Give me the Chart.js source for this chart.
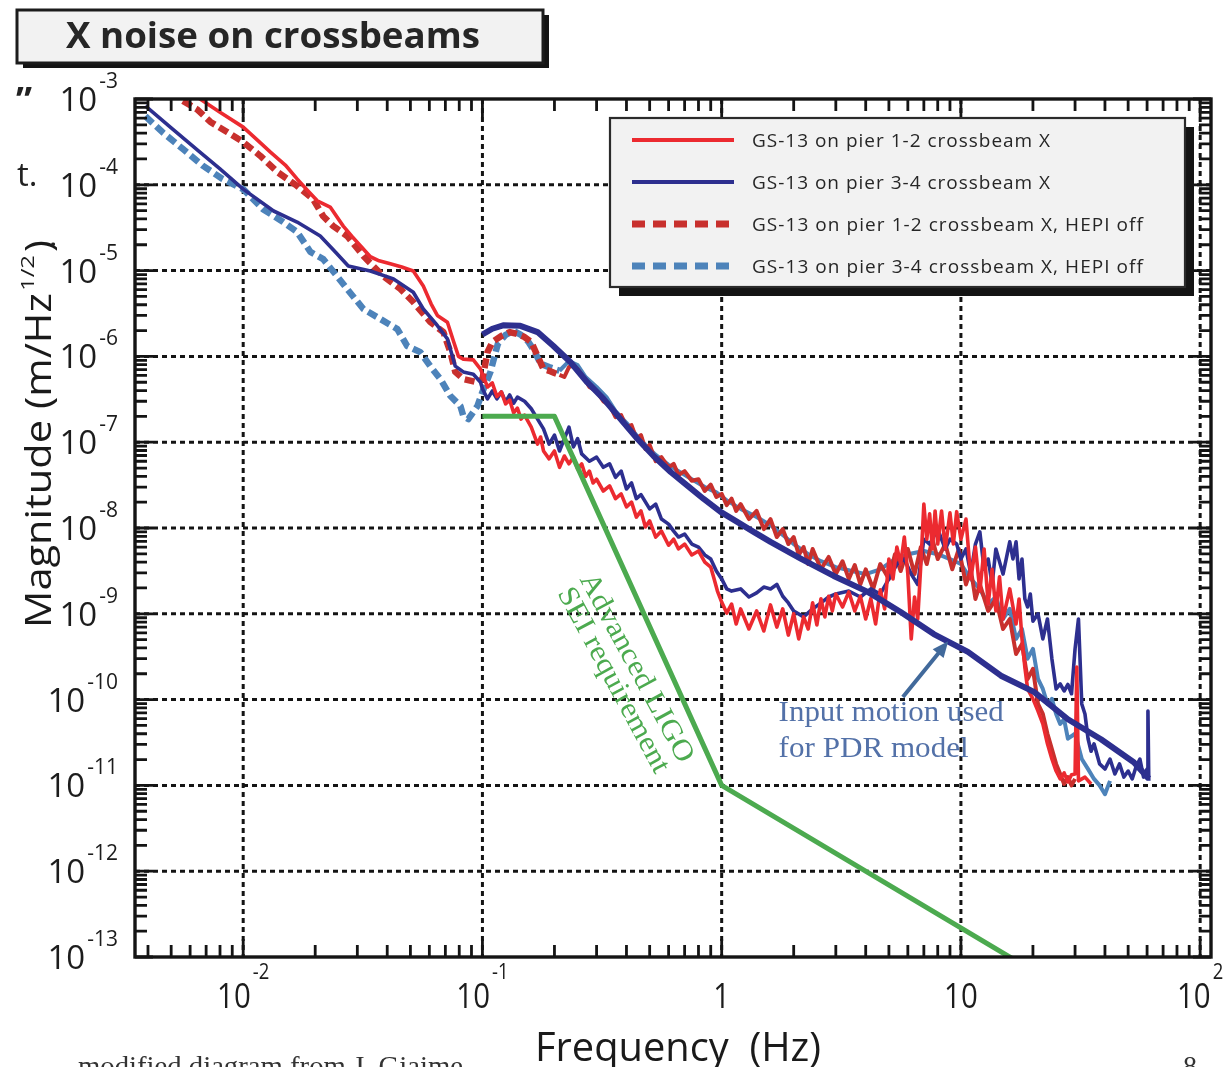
<!DOCTYPE html>
<html>
<head>
<meta charset="utf-8">
<title>X noise on crossbeams</title>
<script src="https://cdn.jsdelivr.net/npm/chart.js"></script>
<style>
  html, body { margin: 0; padding: 0; background: #ffffff; }
  canvas { display: block; }
</style>
</head>
<body>
<canvas id="chart" width="1227" height="1067"></canvas>
<script>
// ---------------- axis ranges and tick labels ----------------
const freqRange = [0.00353, 111];          // Hz
const magRange = [1e-13, 1e-3];            // m/Hz^1/2
const gridFreq = [0.01, 0.1, 1, 10, 100];
const gridMag = [1e-4, 1e-5, 1e-6, 1e-7, 1e-8, 1e-9, 1e-10, 1e-11, 1e-12];
const xTickValues = [0.01, 0.1, 1, 10, 100];
const xTickBase = ['10', '10', '1', '10', '10'];
const xTickExp = ['-2', '-1', '', '', '2'];
const yTickValues = [1e-3, 1e-4, 1e-5, 1e-6, 1e-7, 1e-8, 1e-9, 1e-10, 1e-11, 1e-12, 1e-13];
const yTickExp = ['-3', '-4', '-5', '-6', '-7', '-8', '-9', '-10', '-11', '-12', '-13'];

const seriesLabels = [
  'GS-13 on pier 1-2 crossbeam X',
  'GS-13 on pier 3-4 crossbeam X',
  'GS-13 on pier 1-2 crossbeam X, HEPI off',
  'GS-13 on pier 3-4 crossbeam X, HEPI off'
];

// ---------------- GS-13 on pier 1-2, HEPI on ----------------
const pier12Freq = [
  0.0062, 0.0066, 0.008, 0.010, 0.0115, 0.013, 0.015, 0.0168, 0.0185, 0.0204,
  0.0231, 0.0262, 0.0285, 0.0309, 0.034, 0.037, 0.0412, 0.046, 0.0514, 0.0566,
  0.061, 0.0648, 0.0714, 0.0757, 0.0794, 0.0832, 0.0916, 0.0982,
  0.100, 0.105, 0.110, 0.115, 0.120, 0.125, 0.130, 0.135, 0.140, 0.145,
  0.150, 0.160, 0.170, 0.175, 0.180, 0.190, 0.200, 0.210, 0.220, 0.230,
  0.240, 0.250, 0.260, 0.270, 0.280, 0.290, 0.300, 0.320, 0.340, 0.360,
  0.380, 0.400, 0.420, 0.440, 0.460, 0.480, 0.500, 0.530, 0.560, 0.600,
  0.630, 0.660, 0.700, 0.750, 0.800, 0.850, 0.900, 0.930, 0.960, 1.00,
  1.05, 1.10, 1.15, 1.20, 1.30, 1.40, 1.50, 1.60, 1.70, 1.80,
  1.90, 2.00, 2.10, 2.20, 2.30, 2.40, 2.50, 2.60, 2.70, 2.80,
  2.90, 3.00, 3.20, 3.40, 3.60, 3.80, 4.00, 4.20, 4.40, 4.60,
  4.80, 5.00, 5.20, 5.40, 5.60, 5.80, 6.00, 6.20, 6.40, 6.60,
  6.80, 7.00, 7.20, 7.40, 7.60, 7.80, 8.00, 8.30, 8.60, 9.00,
  9.30, 9.60, 10.0, 10.5, 11.0, 11.5, 12.0, 12.5, 13.0, 13.5,
  14.0, 14.5, 15.0, 16.0, 17.0, 17.5, 18.0, 18.5, 19.0, 20.0,
  21.0, 22.0, 23.0, 24.0, 25.0, 26.0, 27.0, 28.0, 29.0, 30.0,
  30.5, 31.0, 33.0, 35.0
];
const pier12Mag = [
  1.15e-3, 1.0e-3, 7.0e-4, 4.7e-4, 3.3e-4, 2.4e-4, 1.7e-4, 1.17e-4, 8.7e-5, 6.5e-5,
  5.5e-5, 3.3e-5, 2.5e-5, 1.95e-5, 1.45e-5, 1.3e-5, 1.2e-5, 1.1e-5, 9.9e-6, 6.6e-6,
  4.1e-6, 3.0e-6, 2.5e-6, 1.5e-6, 1.0e-6, 9.3e-7, 9.1e-7, 7.1e-7,
  6.2e-7, 4.4e-7, 4.9e-7, 3.4e-7, 3.85e-7, 2.8e-7, 3.1e-7, 2.2e-7, 2.5e-7, 1.86e-7,
  2.07e-7, 1.5e-7, 9.5e-8, 1.15e-7, 7.9e-8, 6.4e-8, 7.9e-8, 5.1e-8, 6.9e-8, 5.6e-8,
  6.7e-8, 4.9e-8, 5.6e-8, 4.0e-8, 4.6e-8, 3.35e-8, 3.7e-8, 2.7e-8, 3.1e-8, 2.2e-8,
  2.5e-8, 1.76e-8, 2.0e-8, 1.34e-8, 1.58e-8, 1.03e-8, 1.21e-8, 7.85e-9, 9.2e-9, 6.3e-9,
  7.4e-9, 5.7e-9, 6.5e-9, 4.85e-9, 5.4e-9, 4.0e-9, 3.5e-9, 2.55e-9, 1.84e-9, 1.37e-9,
  1.02e-9, 1.3e-9, 7.6e-10, 1.14e-9, 6.65e-10, 1.08e-9, 6.3e-10, 1.27e-9, 7.0e-10, 1.14e-9,
  5.65e-10, 1.0e-9, 5.1e-10, 9.2e-10, 6.65e-10, 1.34e-9, 7.4e-10, 1.5e-9, 9.2e-10, 1.6e-9,
  1.08e-9, 1.7e-9, 1.2e-9, 1.8e-9, 1.08e-9, 1.6e-9, 8.7e-10, 1.5e-9, 7.6e-10, 1.9e-9,
  1.14e-9, 4.35e-9, 2.55e-9, 6.0e-9, 3.8e-9, 7.85e-9, 2.9e-9, 5.1e-10, 1.57e-9, 8.7e-10,
  3.8e-9, 1.9e-8, 7.4e-9, 1.46e-8, 5.7e-9, 1.58e-8, 6.5e-9, 1.58e-8, 5.7e-9, 1.5e-8,
  6.5e-9, 1.55e-8, 7.4e-9, 1.27e-8, 2.55e-9, 6.0e-9, 1.84e-9, 5.7e-9, 1.3e-9, 3.3e-9,
  1.08e-9, 2.7e-9, 8.7e-10, 1.95e-9, 7.6e-10, 1.49e-9, 5.1e-10, 2.4e-10, 1.33e-10, 1.02e-10,
  7.35e-11, 5.2e-11, 3.05e-11, 2.03e-11, 1.47e-11, 1.19e-11, 1.4e-11, 1.1e-11, 1.33e-11, 1.36e-11,
  2.4e-10, 1.13e-11, 1.25e-11, 1.04e-11
];

// ---------------- GS-13 on pier 3-4, HEPI on ----------------
const pier34Freq = [
  0.0039, 0.0050, 0.0065, 0.0080, 0.010, 0.0134, 0.0168, 0.0210, 0.0245, 0.0275,
  0.0340, 0.0425, 0.0514, 0.0566, 0.0640, 0.0714, 0.0770, 0.0832, 0.0916, 0.0982,
  0.100, 0.105, 0.110, 0.115, 0.120, 0.125, 0.130, 0.135, 0.140, 0.150,
  0.160, 0.170, 0.180, 0.190, 0.200, 0.210, 0.220, 0.230, 0.240, 0.250,
  0.260, 0.280, 0.300, 0.320, 0.340, 0.360, 0.380, 0.400, 0.420, 0.440,
  0.460, 0.500, 0.530, 0.560, 0.600, 0.630, 0.660, 0.700, 0.750, 0.800,
  0.850, 0.900, 0.950, 1.00, 1.05, 1.10, 1.20, 1.30, 1.40, 1.50,
  1.60, 1.70, 1.80, 1.90, 2.00, 2.20, 2.40, 2.60, 2.80, 3.00,
  3.40, 3.80, 4.20, 4.60, 5.00, 5.40, 5.80, 6.20, 6.60, 7.00,
  7.40, 8.00, 8.60, 9.00, 9.60, 10.0, 10.5, 11.0, 11.5, 12.0,
  12.5, 13.0, 13.5, 14.0, 15.0, 16.0, 16.5, 17.0, 17.5, 18.0,
  18.5, 19.0, 19.5, 20.0, 21.0, 22.0, 23.0, 24.0, 25.0, 26.0,
  27.0, 28.0, 29.0, 30.0, 31.0, 32.0, 33.0, 34.0, 35.0, 36.0,
  38.0, 40.0, 42.0, 44.0, 46.0, 48.0, 50.0, 52.0, 54.0, 56.0,
  58.0, 60.0, 60.5, 61.0
];
const pier34Mag = [
  8.3e-4, 4.6e-4, 2.48e-4, 1.53e-4, 8.9e-5, 4.95e-5, 3.68e-5, 2.53e-5, 1.6e-5, 1.13e-5,
  9.9e-6, 8.0e-6, 5.6e-6, 3.57e-6, 2.39e-6, 1.6e-6, 7.7e-7, 6.6e-7, 6.2e-7, 5.0e-7,
  4.2e-7, 3.2e-7, 3.95e-7, 3.2e-7, 3.85e-7, 2.95e-7, 3.55e-7, 2.85e-7, 3.35e-7, 3.0e-7,
  2.45e-7, 1.86e-7, 1.43e-7, 9.5e-8, 1.21e-7, 7.9e-8, 1.1e-7, 1.5e-7, 8.8e-8, 1.1e-7,
  7.3e-8, 6.0e-8, 6.7e-8, 5.1e-8, 5.6e-8, 3.9e-8, 4.6e-8, 2.85e-8, 3.35e-8, 2.2e-8,
  2.45e-8, 1.67e-8, 1.9e-8, 1.27e-8, 1.11e-8, 9.2e-9, 7.85e-9, 8.5e-9, 6.5e-9, 6.0e-9,
  4.85e-9, 4.35e-9, 3.15e-9, 2.55e-9, 1.95e-9, 1.84e-9, 1.95e-9, 1.57e-9, 1.75e-9, 2.05e-9,
  1.95e-9, 2.2e-9, 1.6e-9, 1.34e-9, 1.08e-9, 9.2e-10, 1.14e-9, 1.34e-9, 1.57e-9, 1.7e-9,
  1.84e-9, 1.57e-9, 1.95e-9, 1.7e-9, 2.55e-9, 3.8e-9, 4.35e-9, 2.9e-9, 2.2e-9, 7.4e-9,
  6.5e-9, 9.7e-9, 5.7e-9, 7.4e-9, 6.5e-9, 4.35e-9, 5.7e-9, 2.9e-9, 6.5e-9, 9.0e-9,
  3.3e-9, 4.35e-9, 2.2e-9, 5.7e-9, 2.9e-9, 6.9e-9, 4.35e-9, 6.9e-9, 2.55e-9, 4.35e-9,
  1.49e-9, 1.2e-9, 1.7e-9, 8.2e-10, 1.0e-9, 5.1e-10, 8.7e-10, 3.0e-10, 1.33e-10, 1.52e-10,
  1.26e-10, 1.5e-10, 1.17e-10, 3.9e-10, 8.7e-10, 8.9e-11, 6.8e-11, 3.5e-11, 2.5e-11, 3.05e-11,
  1.78e-11, 1.55e-11, 2.03e-11, 1.36e-11, 1.78e-11, 1.25e-11, 1.47e-11, 1.19e-11, 1.66e-11, 2.03e-11,
  1.25e-11, 1.55e-11, 7.35e-11, 1.13e-11
];

// ---------------- GS-13 on pier 1-2, HEPI off ----------------
const pier12OffFreq = [
  0.0056, 0.0064, 0.0073, 0.0086, 0.010, 0.0118, 0.0139, 0.0168, 0.0196, 0.0216,
  0.0238, 0.0272, 0.0318, 0.0385, 0.0454, 0.0514, 0.0605, 0.0687, 0.0735, 0.0770,
  0.0832, 0.0953,
  0.100, 0.105, 0.110, 0.115, 0.120, 0.130, 0.140, 0.150, 0.160, 0.170,
  0.180, 0.190, 0.200, 0.210, 0.220, 0.230, 0.240, 0.250, 0.260, 0.270,
  0.280, 0.300, 0.320, 0.340, 0.360, 0.380, 0.400, 0.420, 0.440, 0.460,
  0.480, 0.500, 0.530, 0.560, 0.600, 0.630, 0.660, 0.700, 0.750, 0.800,
  0.850, 0.900, 0.950, 1.00, 1.05, 1.10, 1.15, 1.20, 1.30, 1.40,
  1.50, 1.60, 1.70, 1.80, 1.90, 2.00, 2.10, 2.20, 2.30, 2.40,
  2.60, 2.80, 3.00, 3.20, 3.40, 3.60, 3.80, 4.00, 4.30, 4.60,
  5.00, 5.30, 5.60, 6.00, 6.40, 6.80, 7.20, 7.60, 8.00, 8.60,
  9.20, 9.80, 10.5, 11.0, 11.5, 12.0, 13.0, 14.0, 15.0, 16.0,
  17.0, 18.0, 19.0, 20.0, 21.0, 22.0, 23.0, 24.0, 25.0, 26.0,
  27.0, 28.0, 29.0, 30.0
];
const pier12OffMag = [
  9.5e-4, 7.6e-4, 5.4e-4, 4.1e-4, 3.15e-4, 2.17e-4, 1.41e-4, 9.7e-5, 6.8e-5, 4.3e-5,
  3.3e-5, 2.53e-5, 1.48e-5, 8.6e-6, 6.1e-6, 4.3e-6, 2.52e-6, 1.92e-6, 1.12e-6, 6.6e-7,
  5.45e-7, 5.0e-7,
  5.45e-7, 1.12e-6, 1.47e-6, 1.6e-6, 1.73e-6, 1.92e-6, 1.82e-6, 1.68e-6, 1.47e-6, 1.01e-6,
  7.1e-7, 6.8e-7, 6.4e-7, 6.1e-7, 5.75e-7, 7.5e-7, 7.9e-7, 7.1e-7, 6.1e-7, 5.2e-7,
  4.4e-7, 3.95e-7, 3.0e-7, 2.7e-7, 1.96e-7, 2.07e-7, 1.5e-7, 1.58e-7, 1.1e-7, 1.21e-7,
  8.3e-8, 9.3e-8, 6.0e-8, 6.7e-8, 5.1e-8, 5.6e-8, 4.15e-8, 4.6e-8, 3.55e-8, 3.7e-8,
  2.7e-8, 3.2e-8, 2.3e-8, 2.5e-8, 1.85e-8, 2.2e-8, 1.58e-8, 1.9e-8, 1.27e-8, 1.58e-8,
  9.7e-9, 1.27e-8, 7.85e-9, 9.7e-9, 6.5e-9, 7.85e-9, 4.85e-9, 6.0e-9, 3.8e-9, 5.7e-9,
  3.3e-9, 4.6e-9, 2.9e-9, 4.1e-9, 2.55e-9, 3.7e-9, 2.2e-9, 3.3e-9, 1.95e-9, 3.8e-9,
  2.55e-9, 4.95e-9, 3.15e-9, 5.7e-9, 2.9e-9, 6.0e-9, 3.8e-9, 7.4e-9, 4.35e-9, 6.5e-9,
  3.3e-9, 5.7e-9, 2.2e-9, 3.3e-9, 1.49e-9, 2.2e-9, 1.08e-9, 1.49e-9, 6.65e-10, 8.7e-10,
  3.4e-10, 4.45e-10, 1.74e-10, 2.28e-10, 8.9e-11, 6.8e-11, 4.0e-11, 2.65e-11, 1.78e-11, 1.36e-11,
  1.04e-11, 1.25e-11, 1.0e-11, 1.19e-11
];

// ---------------- GS-13 on pier 3-4, HEPI off ----------------
const pier34OffFreq = [
  0.0039, 0.0046, 0.0056, 0.0068, 0.0082, 0.010, 0.0121, 0.0147, 0.0168, 0.0191,
  0.0216, 0.0247, 0.0272, 0.0318, 0.0374, 0.0441, 0.0485, 0.0550, 0.0605, 0.0667,
  0.0735, 0.0809, 0.0832, 0.0873, 0.0953,
  0.100, 0.108, 0.116, 0.125, 0.135, 0.145, 0.155, 0.165, 0.175, 0.190,
  0.210, 0.230, 0.250, 0.270, 0.300, 0.330, 0.360, 0.400, 0.440, 0.480,
  0.530, 0.600, 0.660, 0.750, 0.850, 0.950, 1.05, 1.20, 1.40, 1.60,
  1.80, 2.00, 2.30, 2.60, 3.00, 3.50, 4.00, 4.60, 5.30, 6.00,
  7.00, 8.00, 9.00, 10.0, 11.0, 12.0, 13.0, 14.0, 15.0, 16.0,
  17.0, 18.0, 19.0, 20.0, 21.0, 22.0, 23.0, 24.0, 25.0, 26.0,
  27.0, 28.0, 30.0, 32.0, 34.0, 36.0, 38.0, 40.0, 42.0
];
const pier34OffMag = [
  6.3e-4, 4.1e-4, 2.61e-4, 1.66e-4, 1.17e-4, 8.9e-5, 5.2e-5, 3.68e-5, 2.82e-5, 1.65e-5,
  1.36e-5, 8.6e-6, 6.1e-6, 3.57e-6, 2.73e-6, 2.08e-6, 1.32e-6, 1.12e-6, 7.7e-7, 5.45e-7,
  3.45e-7, 2.64e-7, 2.02e-7, 1.86e-7, 2.64e-7,
  3.85e-7, 6.6e-7, 1.4e-6, 1.78e-6, 1.98e-6, 1.78e-6, 1.5e-6, 1.15e-6, 8.2e-7, 7.5e-7,
  6.8e-7, 8.8e-7, 7.9e-7, 5.75e-7, 4.4e-7, 3.35e-7, 2.3e-7, 1.68e-7, 1.21e-7, 9.3e-8,
  7.1e-8, 5.45e-8, 4.6e-8, 3.7e-8, 3.0e-8, 2.6e-8, 2.1e-8, 1.67e-8, 1.34e-8, 1.08e-8,
  8.3e-9, 6.5e-9, 4.95e-9, 4.1e-9, 3.5e-9, 3.15e-9, 2.9e-9, 3.3e-9, 4.35e-9, 4.95e-9,
  5.4e-9, 4.95e-9, 4.35e-9, 3.8e-9, 2.55e-9, 1.95e-9, 1.3e-9, 1.57e-9, 8.7e-10, 1.14e-9,
  5.1e-10, 6.65e-10, 3.0e-10, 3.9e-10, 1.74e-10, 1.33e-10, 8.9e-11, 1.02e-10, 6.8e-11, 5.2e-11,
  5.9e-11, 3.5e-11, 4.0e-11, 2.03e-11, 1.55e-11, 1.19e-11, 1.0e-11, 7.9e-12, 1.13e-11
];

// ---------------- input motion used for the PDR model ----------------
const modelFreq = [
  0.100, 0.110, 0.122, 0.144, 0.170, 0.198, 0.233, 0.274, 0.321, 0.378,
  0.445, 0.519, 0.612, 0.721, 0.841, 0.990, 1.166, 1.360, 1.600, 2.140,
  2.940, 4.080, 5.600, 7.700, 10.70, 14.70, 20.20, 28.00, 38.50, 52.80, 61.00
];
const modelMag = [
  1.8e-6, 2.1e-6, 2.3e-6, 2.27e-6, 1.92e-6, 1.32e-6, 8.6e-7, 5.0e-7, 3.2e-7, 1.86e-7,
  1.09e-7, 6.9e-8, 4.5e-8, 3.1e-8, 2.18e-8, 1.54e-8, 1.17e-8, 9.0e-9, 6.9e-9, 4.4e-9,
  2.76e-9, 1.8e-9, 1.05e-9, 5.8e-10, 3.6e-10, 1.9e-10, 1.23e-10, 5.9e-11, 3.45e-11, 1.86e-11, 1.2e-11
];

// ---------------- Advanced LIGO SEI requirement ----------------
const reqFreq = [0.1, 0.2, 1, 20];
const reqMag = [2e-7, 2e-7, 1e-11, 6.9e-14];

// annotation anchors, in data coordinates (Hz, m/Hz^1/2)
const reqTextLines = ['Advanced LIGO', 'SEI requirement'];
const reqTextAnchors = [[0.254, 2.55e-9], [0.205, 1.75e-9]];
const modelTextLines = ['Input motion used', 'for PDR model'];
const modelTextAnchors = [[1.73, 5.6e-11], [1.73, 2.14e-11]];
const arrowFrom = [5.72, 1.07e-10];
const arrowTo = [8.85, 4.8e-10];

// ---------------- colours ----------------
const RED = '#ec2a30';
const NAVY = '#2d2f8f';
const DARK_RED = '#c8302d';
const STEEL = '#4d83ba';
const GREEN = '#4caa4f';
const NOTE_BLUE = '#5371a8';
const INK = '#141414';

const pts = (f, m) => f.map((v, i) => ({ x: v, y: m[i] }));

// HEPI-off traces are dashed at low frequency, where the spectra are sparse
const dashUntil = 0.21;
const lowDash = {
  borderDash: c => (c.p1.parsed.x <= dashUntil ? [10, 5] : []),
  borderWidth: c => (c.p1.parsed.x <= dashUntil ? 6.5 : 4)
};

function fitText(ctx, text, x, y, width, font) {
  ctx.font = font;
  const w = ctx.measureText(text).width;
  ctx.save();
  ctx.translate(x, y);
  ctx.scale(width / w, 1);
  ctx.fillText(text, 0, 0);
  ctx.restore();
}

function spacedText(ctx, text, x, y, width, font) {
  ctx.font = font;
  ctx.letterSpacing = '0px';
  const w = ctx.measureText(text).width;
  const ls = (width - w) / (text.length - 1);
  ctx.letterSpacing = ls.toFixed(2) + 'px';
  ctx.fillText(text, x, y);
  ctx.letterSpacing = '0px';
}

const plotDecor = {
  id: 'plotDecor',
  beforeDatasetsDraw(chart) {
    const { ctx, chartArea: a, scales: { x, y } } = chart;
    ctx.save();
    ctx.strokeStyle = INK;
    ctx.lineWidth = 3;
    ctx.setLineDash([5, 4]);
    ctx.beginPath();
    for (const v of gridFreq) {
      const px = x.getPixelForValue(v);
      ctx.moveTo(px, a.top); ctx.lineTo(px, a.bottom);
    }
    for (const v of gridMag) {
      const py = y.getPixelForValue(v);
      ctx.moveTo(a.left, py); ctx.lineTo(a.right, py);
    }
    ctx.stroke();
    ctx.restore();
  },
  afterDatasetsDraw(chart) {
    const { ctx, chartArea: a, scales: { x, y } } = chart;
    ctx.save();

    // inward ticks on all four sides
    ctx.strokeStyle = INK;
    ctx.lineWidth = 2.8;
    ctx.beginPath();
    for (let k = -3; k <= 2; k++) {
      for (let m = 1; m <= 9; m++) {
        const v = m * Math.pow(10, k);
        if (v < x.min || v > x.max) continue;
        const px = x.getPixelForValue(v);
        const len = m === 1 ? 18 : 12;
        ctx.moveTo(px, a.bottom); ctx.lineTo(px, a.bottom - len);
        ctx.moveTo(px, a.top); ctx.lineTo(px, a.top + len);
      }
    }
    for (let k = -13; k <= -3; k++) {
      for (let m = 1; m <= 9; m++) {
        const v = m * Math.pow(10, k);
        if (v < y.min * 0.999 || v > y.max * 1.001) continue;
        const py = y.getPixelForValue(v);
        const len = m === 1 ? 18 : 12;
        ctx.moveTo(a.left, py); ctx.lineTo(a.left + len, py);
        ctx.moveTo(a.right, py); ctx.lineTo(a.right - len, py);
      }
    }
    ctx.stroke();

    // plot frame
    ctx.lineWidth = 3.4;
    ctx.strokeRect(a.left, a.top, a.right - a.left, a.bottom - a.top);

    // requirement label, written along the steep part of the requirement line
    ctx.fillStyle = GREEN;
    ctx.textBaseline = 'alphabetic';
    reqTextLines.forEach((t, i) => {
      const px = x.getPixelForValue(reqTextAnchors[i][0]);
      const py = y.getPixelForValue(reqTextAnchors[i][1]);
      ctx.save();
      ctx.translate(px, py);
      ctx.rotate(61.6 * Math.PI / 180);
      fitText(ctx, t, 0, 0, i === 0 ? 211 : 207, '29px "Liberation Serif", "DejaVu Serif", serif');
      ctx.restore();
    });

    // model label and arrow
    ctx.fillStyle = NOTE_BLUE;
    modelTextLines.forEach((t, i) => {
      const px = x.getPixelForValue(modelTextAnchors[i][0]);
      const py = y.getPixelForValue(modelTextAnchors[i][1]);
      fitText(ctx, t, px, py, i === 0 ? 225 : 190, '30px "Liberation Serif", "DejaVu Serif", serif');
    });
    const ax0 = x.getPixelForValue(arrowFrom[0]), ay0 = y.getPixelForValue(arrowFrom[1]);
    const ax1 = x.getPixelForValue(arrowTo[0]), ay1 = y.getPixelForValue(arrowTo[1]);
    const ang = Math.atan2(ay1 - ay0, ax1 - ax0);
    ctx.strokeStyle = '#41699b';
    ctx.fillStyle = '#41699b';
    ctx.lineWidth = 4;
    ctx.beginPath();
    ctx.moveTo(ax0, ay0);
    ctx.lineTo(ax1 - 12 * Math.cos(ang), ay1 - 12 * Math.sin(ang));
    ctx.stroke();
    ctx.beginPath();
    ctx.moveTo(ax1, ay1);
    ctx.lineTo(ax1 - 16 * Math.cos(ang) + 7 * Math.sin(ang), ay1 - 16 * Math.sin(ang) - 7 * Math.cos(ang));
    ctx.lineTo(ax1 - 16 * Math.cos(ang) - 7 * Math.sin(ang), ay1 - 16 * Math.sin(ang) + 7 * Math.cos(ang));
    ctx.closePath();
    ctx.fill();

    // legend box with drop shadow
    const lx = 610, ly = 118, lw = 575, lh = 169;
    ctx.fillStyle = '#141414';
    ctx.fillRect(lx + 9, ly + 9, lw, lh);
    ctx.fillStyle = '#f2f2f2';
    ctx.fillRect(lx, ly, lw, lh);
    ctx.strokeStyle = '#2b2b2b';
    ctx.lineWidth = 2.2;
    ctx.strokeRect(lx, ly, lw, lh);
    const legendStyle = [
      { color: RED, dash: [], width: 4 },
      { color: NAVY, dash: [], width: 4 },
      { color: DARK_RED, dash: [13, 8], width: 7 },
      { color: STEEL, dash: [13, 8], width: 7 }
    ];
    const textWidths = [298, 298, 391, 391];
    seriesLabels.forEach((label, i) => {
      const yy = 140 + 42 * i;
      const st = legendStyle[i];
      ctx.strokeStyle = st.color;
      ctx.lineWidth = st.width;
      ctx.setLineDash(st.dash);
      ctx.beginPath();
      ctx.moveTo(632, yy); ctx.lineTo(734, yy);
      ctx.stroke();
      ctx.setLineDash([]);
      ctx.fillStyle = '#262626';
      spacedText(ctx, label, 752, yy + 7, textWidths[i], '19px "Open Sans", "DejaVu Sans", sans-serif');
    });
    ctx.restore();
  },
  afterDraw(chart) {
    const { ctx, scales: { x, y } } = chart;
    ctx.save();
    ctx.textBaseline = 'alphabetic';

    // title box
    ctx.fillStyle = '#141414';
    ctx.fillRect(23, 15, 526, 53);
    ctx.fillStyle = '#f2f2f2';
    ctx.fillRect(17, 10, 526, 53);
    ctx.strokeStyle = '#1c1c1c';
    ctx.lineWidth = 3;
    ctx.strokeRect(17, 10, 526, 53);
    ctx.fillStyle = '#262626';
    fitText(ctx, 'X noise on crossbeams', 66, 48, 414, 'bold 35px "Open Sans", "DejaVu Sans", sans-serif');

    // magnitude tick labels: 10 with superscript exponent
    ctx.fillStyle = '#1c1c1c';
    yTickValues.forEach((v, i) => {
      const py = y.getPixelForValue(v);
      ctx.font = '21px "Open Sans", "DejaVu Sans", sans-serif';
      const we = ctx.measureText(yTickExp[i]).width;
      const right = 118;
      ctx.fillText(yTickExp[i], right - we, py - 11);
      ctx.font = '33px "Open Sans", "DejaVu Sans", sans-serif';
      const wb = ctx.measureText('10').width;
      ctx.fillText('10', right - we - 2 - wb, py + 12);
    });

    // frequency tick labels (slightly condensed)
    xTickValues.forEach((v, i) => {
      const px = x.getPixelForValue(v);
      const sx = 0.84;
      ctx.font = '35px "Open Sans", "DejaVu Sans", sans-serif';
      const wb = ctx.measureText(xTickBase[i]).width * sx;
      ctx.font = '22px "Open Sans", "DejaVu Sans", sans-serif';
      const we = xTickExp[i] ? ctx.measureText(xTickExp[i]).width * sx : 0;
      const total = wb + (we ? 2 + we : 0);
      const start = px - total / 2;
      ctx.save();
      ctx.translate(start, 1008);
      ctx.scale(sx, 1);
      ctx.font = '35px "Open Sans", "DejaVu Sans", sans-serif';
      ctx.fillText(xTickBase[i], 0, 0);
      ctx.restore();
      if (we) {
        ctx.save();
        ctx.translate(start + wb + 2, 979);
        ctx.scale(sx, 1);
        ctx.font = '22px "Open Sans", "DejaVu Sans", sans-serif';
        ctx.fillText(xTickExp[i], 0, 0);
        ctx.restore();
      }
    });

    // axis titles
    ctx.fillStyle = '#1a1a1a';
    fitText(ctx, 'Frequency  (Hz)', 535, 1061, 286, '40px "Open Sans", "DejaVu Sans", sans-serif');
    ctx.save();
    ctx.translate(51, 628);
    ctx.rotate(-Math.PI / 2);
    fitText(ctx, 'Magnitude (m/Hz', 0, 0, 335, '36px "Open Sans", "DejaVu Sans", sans-serif');
    fitText(ctx, '1/2', 337, -17, 36, '19px "Open Sans", "DejaVu Sans", sans-serif');
    fitText(ctx, ')', 376, 0, 12, '36px "Open Sans", "DejaVu Sans", sans-serif');
    ctx.restore();

    // fragments of surrounding slide text
    ctx.fillStyle = '#222222';
    ctx.font = 'bold 36px "Open Sans", "DejaVu Sans", sans-serif';
    ctx.fillText('\u201D', 16, 113);
    ctx.font = '33px "Open Sans", "DejaVu Sans", sans-serif';
    ctx.fillText('t.', 17, 186);
    ctx.font = 'bold 22px "Open Sans", "DejaVu Sans", sans-serif';
    ctx.fillText('.', 50, 246);
    ctx.fillStyle = '#333333';
    fitText(ctx, 'modified diagram from J. Giaime', 78, 1075, 385, '28px "Liberation Serif", "DejaVu Serif", serif');
    ctx.font = '28px "Liberation Serif", "DejaVu Serif", serif';
    ctx.fillText('8', 1183, 1075);
    ctx.restore();
  }
};

const chart = new Chart(document.getElementById('chart'), {
  type: 'line',
  data: {
    datasets: [
      { label: 'Input motion used for PDR model', data: pts(modelFreq, modelMag), borderColor: NAVY, borderWidth: 6, order: 0 },
      { label: 'Advanced LIGO SEI requirement', data: pts(reqFreq, reqMag), borderColor: GREEN, borderWidth: 5, order: 1 },
      { label: seriesLabels[0], data: pts(pier12Freq, pier12Mag), borderColor: RED, borderWidth: 3.6, order: 2 },
      { label: seriesLabels[1], data: pts(pier34Freq, pier34Mag), borderColor: NAVY, borderWidth: 3.6, order: 3 },
      { label: seriesLabels[2], data: pts(pier12OffFreq, pier12OffMag), borderColor: DARK_RED, borderWidth: 4, order: 4, segment: lowDash },
      { label: seriesLabels[3], data: pts(pier34OffFreq, pier34OffMag), borderColor: STEEL, borderWidth: 4, order: 5, segment: lowDash }
    ]
  },
  options: {
    responsive: false,
    animation: false,
    devicePixelRatio: 1,
    layout: { padding: { left: 135, right: 16, top: 99, bottom: 110 } },
    datasets: { line: { clip: 0 } },
    elements: {
      point: { radius: 0, hoverRadius: 0 },
      line: { tension: 0, fill: false, borderJoinStyle: 'round', borderCapStyle: 'butt' }
    },
    scales: {
      x: { type: 'logarithmic', min: freqRange[0], max: freqRange[1], display: false },
      y: { type: 'logarithmic', min: magRange[0], max: magRange[1], display: false }
    },
    plugins: { legend: { display: false }, tooltip: { enabled: false } },
    events: []
  },
  plugins: [plotDecor]
});
</script>
</body>
</html>
